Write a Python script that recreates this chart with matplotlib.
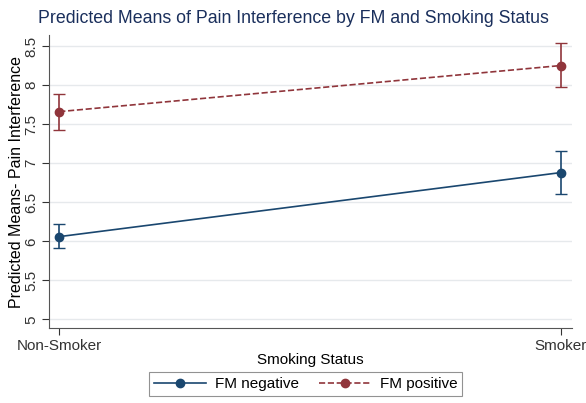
import numpy as np
import matplotlib.pyplot as plt
from matplotlib.lines import Line2D

plt.rcParams["font.family"] = ["Liberation Sans", "DejaVu Sans"]

# predicted means with 95% CI by smoking status
groups = ["Non-Smoker", "Smoker"]
fm_neg = [6.06, 6.88]
fm_neg_lo = [5.91, 6.61]
fm_neg_hi = [6.22, 7.15]
fm_pos = [7.66, 8.25]
fm_pos_lo = [7.43, 7.97]
fm_pos_hi = [7.88, 8.54]

navy = "#1a476f"
maroon = "#90353b"

x = np.arange(len(groups))

fig = plt.figure(figsize=(5.86, 4.03), dpi=100)
ax = fig.add_axes([0.084, 0.186, 0.892, 0.727])

neg = np.array(fm_neg)
pos = np.array(fm_pos)
ax.errorbar(x, neg, yerr=[neg - fm_neg_lo, np.array(fm_neg_hi) - neg],
            color=navy, lw=1.2, marker="o", ms=6, capsize=4, elinewidth=1.2)
ax.errorbar(x, pos, yerr=[pos - fm_pos_lo, np.array(fm_pos_hi) - pos],
            color=maroon, lw=1.2, ls="--", marker="o", ms=6, capsize=4,
            elinewidth=1.2)
for c in ax.containers:
    c[2][0].set_linestyle("-")

ax.set_xlim(-0.02, 1.022)
ax.set_ylim(4.89, 8.64)
ax.set_xticks(x)
ax.set_xticklabels(groups, fontsize=11)
ax.set_yticks([5, 5.5, 6, 6.5, 7, 7.5, 8, 8.5])
ax.set_yticklabels(["5", "5.5", "6", "6.5", "7", "7.5", "8", "8.5"],
                   rotation=90, va="center", fontsize=11)
ax.yaxis.grid(True, color="#e6e9ec", lw=1)
ax.set_axisbelow(True)
for s in ["top", "right"]:
    ax.spines[s].set_visible(False)
for s in ["left", "bottom"]:
    ax.spines[s].set_color("#555555")
ax.tick_params(colors="#333333", length=5, pad=3)

ax.set_xlabel("Smoking Status", fontsize=11, labelpad=0)
ax.set_ylabel("Predicted Means- Pain Interference", fontsize=11.5, labelpad=0)
fig.suptitle("Predicted Means of Pain Interference by FM and Smoking Status",
             x=0.5, y=0.975, fontsize=12.8, color="#1a2f5c")

handles = [
    Line2D([], [], color=navy, lw=1.2, marker="o", ms=6),
    Line2D([], [], color=maroon, lw=1.2, ls="--", marker="o", ms=6),
]
leg = fig.legend(handles, ["FM negative", "FM positive"], loc="center",
                 bbox_to_anchor=(0.522, 0.047), ncol=2, fontsize=11,
                 frameon=True, fancybox=False, edgecolor="#777777",
                 handlelength=3.4, borderpad=0.3, columnspacing=1.3,
                 handletextpad=0.6)
leg.get_frame().set_linewidth(0.8)

fig.savefig("out.png", dpi=100, facecolor="white")
